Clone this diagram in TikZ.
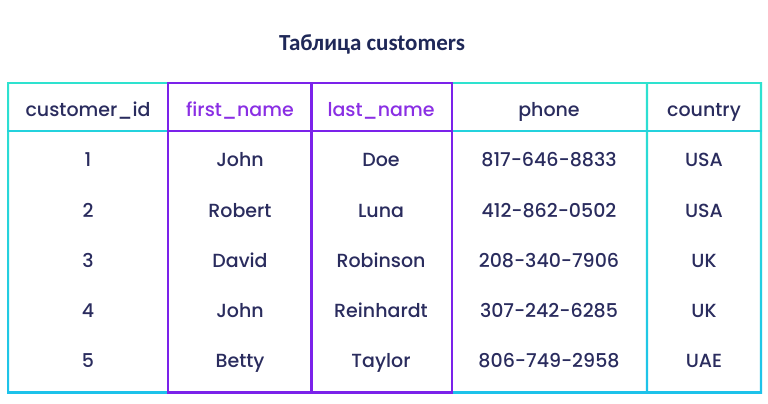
\documentclass[tikz,border=0pt]{standalone}
\usepackage{fontspec}
\setmainfont{Poppins}[UprightFont=* Medium]
\newfontfamily\titlefont{Carlito}
\definecolor{navy}{HTML}{2A2C5E}
\definecolor{titlenavy}{HTML}{1F2858}
\definecolor{purp}{HTML}{7B22EA}
\definecolor{purptext}{HTML}{8A2FE4}
\definecolor{cyantop}{HTML}{2EE2CF}
\definecolor{cyanmid}{HTML}{24D2DD}
\definecolor{cyanbot}{HTML}{1DC2EA}
\begin{document}
\begin{tikzpicture}[x=1pt,y=-1pt,
  cell/.style={font=\fontsize{19}{22}\selectfont, text=navy, inner sep=0pt, anchor=base},
  hcell/.style={cell},
  pcell/.style={cell, text=purptext},
  vline/.style={top color=cyantop, bottom color=cyanbot, draw=none}]
\useasboundingbox (0,0) rectangle (768,404);
\fill[white] (0,0) rectangle (768,404);
% title
\node[font=\titlefont\bfseries\fontsize{23}{26}\selectfont, text=titlenavy, inner sep=0pt, anchor=base] (title) at (372,51) {Таблица customers};
% cyan grid
\shade[vline] (7,82) rectangle (9.2,393.5);
\shade[vline] (645.9,82) rectangle (648.1,393.5);
\shade[vline] (759.8,82) rectangle (762,393.5);
\fill[cyantop] (7,82) rectangle (168,84.2);
\fill[cyantop] (452,82) rectangle (762,84.2);
\fill[cyanmid] (7,130) rectangle (168,132.2);
\fill[cyanmid] (452,130) rectangle (762,132.2);
\fill[cyanbot] (7,391.3) rectangle (168,393.5);
\fill[cyanbot] (452,391.3) rectangle (762,393.5);
% purple block
\draw[purp, line width=2.2pt] (168,83.1) rectangle (452,392.4);
\draw[purp, line width=2.2pt] (168,131.1) -- (452,131.1);
\draw[purp, line width=2.2pt] (311.5,83.1) -- (311.5,392.4);
% header
\node[hcell] (h1) at (88,116.3) {customer\_id};
\node[pcell] (h2) at (240,116.3) {first\_name};
\node[pcell] (h3) at (381,116.3) {last\_name};
\node[hcell] (h4) at (549,116.3) {phone};
\node[hcell] (h5) at (704,116.3) {country};
% rows
\foreach \r/\id/\fn/\ln/\ph/\co [count=\i] in {
  166.8/1/John/Doe/817-646-8833/USA,
  217/2/Robert/Luna/412-862-0502/USA,
  267/3/David/Robinson/208-340-7906/UK,
  317.3/4/John/Reinhardt/307-242-6285/UK,
  367.7/5/Betty/Taylor/806-749-2958/UAE}{
  \node[cell] (c1r\i) at (88,\r) {\id};
  \node[cell] (c2r\i) at (240,\r) {\fn};
  \node[cell] (c3r\i) at (381,\r) {\ln};
  \node[cell] (c4r\i) at (549,\r) {\ph};
  \node[cell] (c5r\i) at (704,\r) {\co};
}
\end{tikzpicture}
\end{document}
